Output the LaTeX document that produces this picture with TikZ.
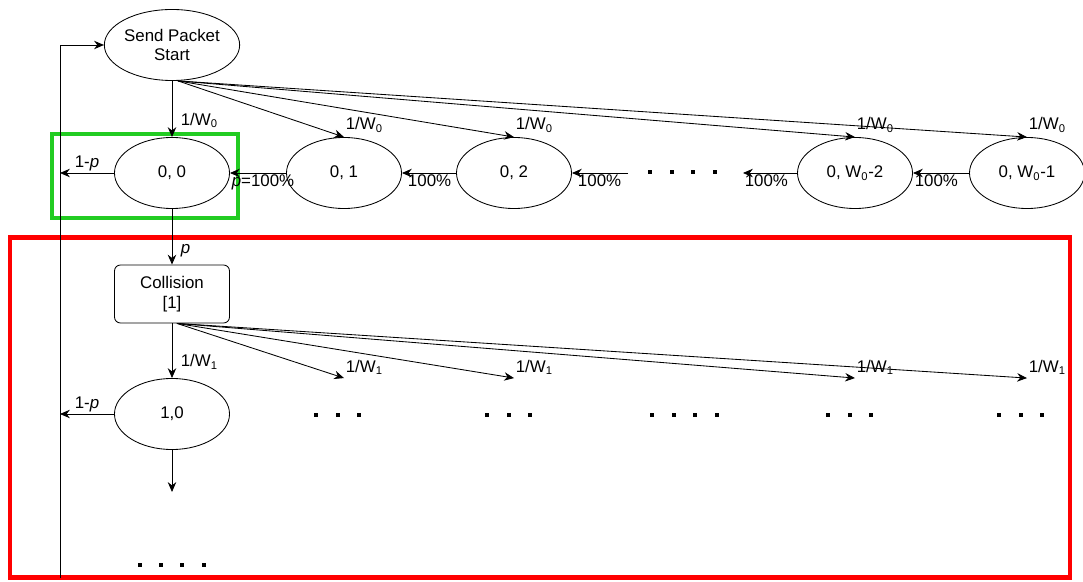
\documentclass[tikz,border=0pt]{standalone}
\usepackage{fontspec}
\setmainfont{Liberation Sans}
\usetikzlibrary{
  arrows.meta,
  calc,
  positioning,
  shapes.geometric
}
\definecolor{boxgreen}{RGB}{34,204,34}
\definecolor{boxred}{RGB}{255,0,0}
\tikzset{>={Stealth[length=7pt,width=6pt]}}
\tikzset{
  bstate/.style={draw, ellipse, minimum width=2.875cm, minimum height=1.775cm,
    inner sep=0pt, align=center, font=\fontsize{12}{14}\selectfont},
  cbox/.style={draw, rounded corners=0.15cm, minimum width=2.875cm,
    minimum height=1.45cm, inner sep=0pt, align=center, font=\fontsize{12}{14}\selectfont},
  lab/.style={inner sep=1pt, font=\fontsize{12}{14}\selectfont},
  hilite/.style={line width=3.3pt}
}

\begin{document}
\begin{tikzpicture}[x=0.025cm, y=-0.025cm, line width=0.6pt]
  \useasboundingbox (0,0) rectangle (1083,582);
  % stage boxes
  \draw[boxgreen, hilite] (52,134) rectangle (238,218);
  \draw[boxred, hilite] (10,237.5) rectangle (1070,577.5);
  % states
  \node[bstate] (start) at (172,45) {Send Packet\\Start};
  \node[bstate] (s00) at (172,173) {0, 0};
  \node[bstate] (s01) at (344,173) {0, 1};
  \node[bstate] (s02) at (514,173) {0, 2};
  \node[bstate] (s0a) at (855,173) {0, W\textsubscript{0}-2};
  \node[bstate] (s0b) at (1027,173) {0, W\textsubscript{0}-1};
  \node[cbox] (coll) at (172,294) {Collision\\{[1]}};
  \node[bstate] (s10) at (172,414) {1,0};
  \coordinate (loop) at (60,577.5);
  \coordinate (fan0) at ($(start.south)+(6,0)$);
  \coordinate (fan1) at ($(coll.south)+(5,0)$);
  \coordinate (d0r) at (628,173);
  \coordinate (d0l) at (743,173);
  \coordinate (down1) at (172,492);
  % back to start
  \draw[->] (loop) |- (start.west);
  % stage 0
  \draw[->] (start.south) -- (s00.north)
    node[lab, pos=0.7, right=5pt] (w00) {1/W\textsubscript{0}};
  \foreach \s/\n in {s01/w01, s02/w02, s0a/w0a, s0b/w0b}
    \draw[->] (fan0) -- (\s.north)
      node[lab, pos=1, anchor=south west, yshift=2pt] (\n) {1/W\textsubscript{0}};
  \draw[->] (s01.west) -- (s00.east)
    node[lab, pos=1, anchor=north west] (c01) {\textit{p}=100\%};
  \draw[->] (s02.west) -- (s01.east)
    node[lab, pos=1, anchor=north west, xshift=3pt] (c02) {100\%};
  \draw[->] (d0r) -- (s02.east)
    node[lab, pos=1, anchor=north west, xshift=3pt] (c03) {100\%};
  \draw[->] (s0a.west) -- (d0l)
    node[lab, pos=1, anchor=north west] (c0a) {100\%};
  \draw[->] (s0b.west) -- (s0a.east)
    node[lab, pos=1, anchor=north west] (c0b) {100\%};
  \draw[->] (s00.west) -- (s00.west -| loop)
    node[lab, midway, above] (q00) {1-\textit{p}};
  \draw[->] (s00.south) -- (coll.north)
    node[lab, pos=0.75, right=5pt] (pc) {\textit{p}};
  % stage 1
  \draw[->] (coll.south) -- (s10.north)
    node[lab, pos=0.7, right=5pt] (w10) {1/W\textsubscript{1}};
  \foreach \s/\n in {s01/w11, s02/w12, s0a/w1a, s0b/w1b}
    \draw[->] (fan1) -- (\s.north |- s10.north)
      node[lab, pos=1, anchor=south west, yshift=1pt] (\n) {1/W\textsubscript{1}};
  \draw[->] (s10.west) -- (s10.west -| loop)
    node[lab, midway, above] (q10) {1-\textit{p}};
  \draw[->] (s10.south) -- (down1);
  % dots
  \foreach \x in {650,672,693,715}
    \fill (\x-2,170) rectangle +(4,4);
  \foreach \x/\n in {316/3, 487/3, 652/4, 828/3, 999/3}
    \foreach \k in {1,...,\n}
      \fill ({\x+21.5*(\k-1)-2},413) rectangle +(4,4);
  \foreach \x in {140,161,182,204}
    \fill (\x-2,563) rectangle +(4,4);
\end{tikzpicture}
\end{document}
